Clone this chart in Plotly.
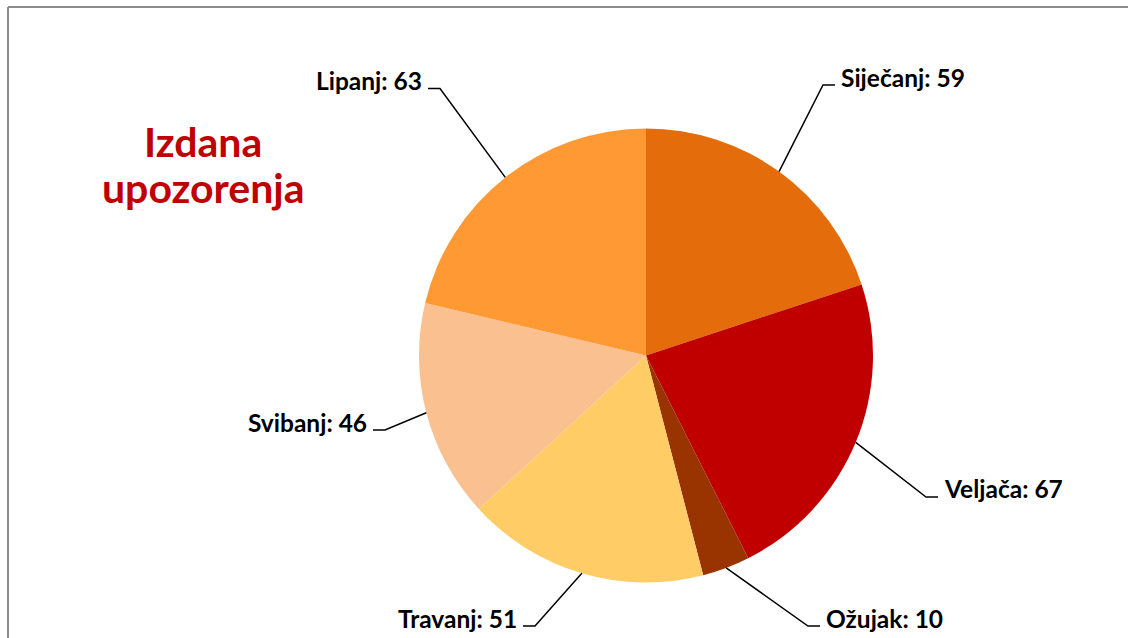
import math
import plotly.graph_objects as go

# ---- data ----
months = ["Siječanj", "Veljača", "Ožujak", "Travanj", "Svibanj", "Lipanj"]
values = [59, 67, 10, 51, 46, 63]
colors = ["#E46C0A", "#C00000", "#993300", "#FFCC66", "#FAC090", "#FF9933"]
title_lines = ["Izdana", "upozorenja"]

# ---- layout (pixels) ----
W, H = 1128, 638
CX, CY, R = 646, 355.5, 227
# label elbow positions (pixel) and side (+1 right, -1 left)
label_layout = {
    "Siječanj": (823, 85, 1),
    "Veljača": (926, 497, 1),
    "Ožujak": (808, 626, 1),
    "Travanj": (535, 626, -1),
    "Svibanj": (385, 430, -1),
    "Lipanj": (440, 88.5, -1),
}
title_pos = [(203, 142), (203, 187)]

def px(x):
    return x / W

def py(y):
    return 1 - y / H

fig = go.Figure(go.Pie(
    labels=months, values=values, sort=False, direction="clockwise", rotation=0,
    marker=dict(colors=colors, line=dict(width=0)), textinfo="none",
    hoverinfo="label+value", showlegend=False,
    domain=dict(x=[px(CX - R), px(CX + R)], y=[py(CY + R), py(CY - R)]),
))

shapes = []
annotations = []
total = sum(values)
cum = 0
for m, v in zip(months, values):
    mid = (cum + v / 2) / total * 2 * math.pi
    cum += v
    sx = CX + R * math.sin(mid)
    sy = CY - R * math.cos(mid)
    ex, ey, side = label_layout[m]
    hx = ex + side * 12
    path = f"M {px(sx)} {py(sy)} L {px(ex)} {py(ey)} L {px(hx)} {py(ey)}"
    shapes.append(dict(type="path", xref="paper", yref="paper", path=path,
                       line=dict(color="black", width=1.5)))
    annotations.append(dict(
        x=px(hx + side * 4), y=py(ey - 8), xref="paper", yref="paper",
        text=f"<b>{m}: {v}</b>", showarrow=False,
        xanchor="left" if side > 0 else "right", yanchor="middle",
        font=dict(family="Lato", size=24.5, color="black"),
    ))

for line, (tx, ty) in zip(title_lines, title_pos):
    annotations.append(dict(
        x=px(tx), y=py(ty), xref="paper", yref="paper", text=f"<b>{line}</b>",
        showarrow=False, xanchor="center", yanchor="middle",
        font=dict(family="Lato", size=41, color="#C00000"),
    ))

# chart frame (top and left edges visible)
shapes.append(dict(type="rect", xref="paper", yref="paper", x0=px(1100), y0=0, x1=1, y1=py(12),
                   fillcolor="white", line=dict(width=0), layer="above"))
shapes.append(dict(type="line", xref="paper", yref="paper", x0=px(8), y0=py(7), x1=1, y1=py(7),
                   line=dict(color="#8C8C8C", width=2)))
shapes.append(dict(type="line", xref="paper", yref="paper", x0=px(8), y0=py(7), x1=px(8), y1=0,
                   line=dict(color="#8C8C8C", width=2)))

fig.update_layout(
    width=W, height=H, margin=dict(l=0, r=0, t=0, b=0),
    paper_bgcolor="white", plot_bgcolor="white",
    shapes=shapes, annotations=annotations,
)

fig.write_html("out.html", config={"displayModeBar": False},
               post_script="document.body.style.margin='0';document.body.style.overflow='hidden';")
